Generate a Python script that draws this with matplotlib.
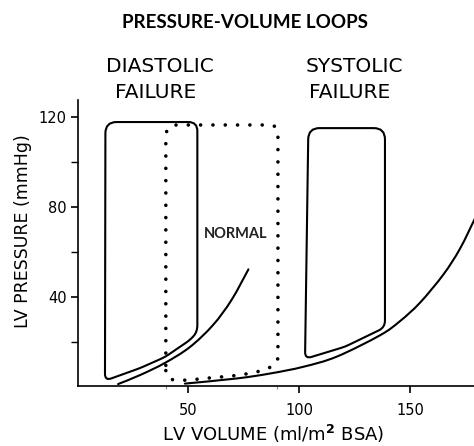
import numpy as np
import matplotlib
matplotlib.use("Agg")
import matplotlib.pyplot as plt
from matplotlib.path import Path
from matplotlib.patches import PathPatch

# ---------------- data (LV volume ml/m^2, LV pressure mmHg) ----------------
# normal end-diastolic pressure-volume relation (solid)
normal_edpvr_v = [48.6, 72, 87, 102, 117, 136.5, 145.5, 154.5, 165, 172.5, 179.5]
normal_edpvr_p = [1.5, 3.8, 6.0, 9.0, 13.5, 23.0, 29.3, 37.5, 50.0, 61.5, 75.5]

# stiff (diastolic failure) end-diastolic relation (solid)
diast_edpvr_v = [18.5, 28.4, 39.6, 50.9, 61.3, 69.6, 77.2]
diast_edpvr_p = [1.3, 5.3, 10.7, 17.8, 27.6, 38.7, 52.3]

# loops: corner vertices (V, P) and corner rounding
normal_loop_v = [40.0, 49.5, 59.5, 69.8, 79.0, 85.0, 90.5, 90.5, 40.0]
normal_loop_p = [3.3, 3.0, 4.0, 4.9, 6.2, 7.8, 10.5, 116.5, 116.5]
normal_loop_r = [4, 0, 0, 0, 0, 2, 3, 4, 5]

diast_loop_v = [12.6, 28.4, 39.6, 50.9, 54.2, 54.2, 12.8]
diast_loop_p = [2.8, 8.4, 13.3, 20.9, 24.5, 117.8, 117.8]
diast_loop_r = [3, 2, 2, 2, 3, 4, 5]

syst_loop_v = [102.7, 120.7, 138.7, 138.7, 104.2]
syst_loop_p = [12.5, 17.9, 26.5, 115.1, 115.1]
syst_loop_r = [3, 2, 3, 5, 5]

x_ticks = [50, 100, 150]
x_minor = [40, 90]
y_ticks = [40, 80, 120]
y_minor = [20, 60, 100]

title = "PRESSURE-VOLUME LOOPS"
xlabel = r"LV VOLUME (ml/m$^{\mathbf{2}}$ BSA)"
ylabel = "LV PRESSURE (mmHg)"


def smooth_path(xs, ys):
    pts = np.column_stack([xs, ys]).astype(float)
    n = len(pts)
    verts = [pts[0]]
    codes = [Path.MOVETO]
    for i in range(n - 1):
        p0 = pts[max(i - 1, 0)]
        p1 = pts[i]
        p2 = pts[i + 1]
        p3 = pts[min(i + 2, n - 1)]
        c1 = p1 + (p2 - p0) / 6.0
        c2 = p2 - (p3 - p1) / 6.0
        verts += [c1, c2, p2]
        codes += [Path.CURVE4] * 3
    return Path(verts, codes)


def rounded_loop(xs, ys, rs):
    pts = np.column_stack([xs, ys]).astype(float)
    n = len(pts)
    verts, codes = [], []
    for i in range(n):
        v = pts[i]
        prev = pts[i - 1]
        nxt = pts[(i + 1) % n]
        r = rs[i]
        if r <= 0:
            a = b = v
        else:
            d1 = prev - v
            d2 = nxt - v
            r1 = min(r, np.linalg.norm(d1) / 2)
            r2 = min(r, np.linalg.norm(d2) / 2)
            a = v + d1 / np.linalg.norm(d1) * r1
            b = v + d2 / np.linalg.norm(d2) * r2
        if i == 0:
            verts.append(a)
            codes.append(Path.MOVETO)
            start = a
        else:
            verts.append(a)
            codes.append(Path.LINETO)
        if r > 0:
            verts += [v, b]
            codes += [Path.CURVE3, Path.CURVE3]
    verts.append(start)
    codes.append(Path.LINETO)
    return Path(verts, codes)


fig = plt.figure(figsize=(4.74, 4.46), dpi=100)
ax = fig.add_axes([78 / 474, 1 - 386 / 446, (474 - 78) / 474, (386 - 100) / 446])
ax.set_xlim(0.45, 178.8)
ax.set_ylim(0.44, 127.6)

lw = 1.5
ax.add_patch(PathPatch(smooth_path(normal_edpvr_v, normal_edpvr_p), fill=False,
                       lw=lw, color="black", capstyle="round"))
ax.add_patch(PathPatch(smooth_path(diast_edpvr_v, diast_edpvr_p), fill=False,
                       lw=lw, color="black", capstyle="round"))
ax.add_patch(PathPatch(rounded_loop(diast_loop_v, diast_loop_p, diast_loop_r),
                       fill=False, lw=lw, color="black", joinstyle="round"))
ax.add_patch(PathPatch(rounded_loop(syst_loop_v, syst_loop_p, syst_loop_r),
                       fill=False, lw=lw, color="black", joinstyle="round"))
ax.add_patch(PathPatch(rounded_loop(normal_loop_v, normal_loop_p, normal_loop_r),
                       fill=False, lw=2.6, color="black",
                       linestyle=(0, (0.01, 3.4)), capstyle="round"))

ax.text(71.6, 68, "NORMAL", fontsize=10.5, fontweight="bold", family="Lato",
        ha="center", va="center", color="#222222")

for s in ["top", "right"]:
    ax.spines[s].set_visible(False)
for s in ["left", "bottom"]:
    ax.spines[s].set_linewidth(1.2)

ax.set_xticks(x_ticks)
ax.set_xticks(x_minor, minor=True)
ax.set_yticks(y_ticks)
ax.set_yticks(y_minor, minor=True)
ax.tick_params(axis="x", which="major", length=5, width=1.2, pad=7, labelsize=10.5)
ax.tick_params(axis="x", which="minor", length=2.5, width=0.8, color="#888888")
ax.tick_params(axis="y", which="major", length=5, width=1.2, pad=3, labelsize=10.5)
ax.tick_params(axis="y", which="minor", length=5, width=1.0)

fig.text(245 / 474, 1 - 22 / 446, title, fontsize=13.5, fontweight="bold", family="Lato",
         ha="center", va="center")
fig.text(160 / 474, 1 - 67 / 446, "DIASTOLIC", fontsize=14.5, ha="center", va="center")
fig.text(156 / 474, 1 - 92 / 446, "FAILURE", fontsize=14.5, ha="center", va="center")
fig.text(354 / 474, 1 - 67 / 446, "SYSTOLIC", fontsize=14.5, ha="center", va="center")
fig.text(349.5 / 474, 1 - 92 / 446, "FAILURE", fontsize=14.5, ha="center", va="center")
fig.text(273 / 474, 1 - 441 / 446, xlabel, fontsize=13, ha="center", va="baseline")
fig.text(23 / 474, 1 - 231 / 446, ylabel, fontsize=12.5, ha="center", va="center",
         rotation=90)

fig.savefig("out.png", dpi=100)
